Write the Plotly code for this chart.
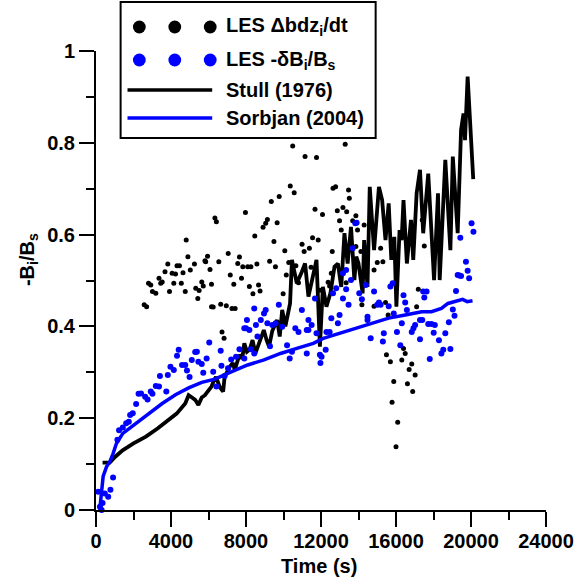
import plotly.graph_objects as go

# ---- Data ----
les_dbdz_t = [2570, 2700, 2800, 2920, 3010, 3190, 3360, 3450, 3530, 3680, 3830, 3920, 4060, 4150, 4240,
              4320, 4450, 4550, 4640, 4760, 4810, 4900, 5030, 5250, 5320, 5430, 5500, 5640, 5720, 5810,
              5850, 5950, 6080, 6160, 6160, 6250, 6340, 6420, 6550, 6650, 6720, 6830, 6950, 7050, 7160,
              7250, 7350, 7420, 7560, 7650, 7760, 7830, 7970, 8090, 8180, 8260, 8370, 8470, 8580, 8670,
              8750, 8910, 9050, 9140, 9260, 9350, 9490, 9570, 9660, 9770, 9980, 10070, 10150, 10280, 10360,
              10490, 10570, 10660, 10800, 10990, 11100, 11150, 11380, 11470, 11550, 11680, 11760, 11850, 11940, 12080,
              12380, 12460, 12550, 12600, 12640, 12780, 12870, 12990, 13080, 13170, 13290, 13340, 13370, 13470, 13510,
              13690, 13860, 13860, 13950, 14130, 14180, 14220, 14300, 14830, 14830, 15000, 15180, 15300, 15440, 15490,
              15580, 15700, 15790, 15880, 16000, 16090, 16310, 16400, 16490, 16610, 16700, 16840, 16890, 17020, 17100,
              17190, 17400, 17510]
les_dbdz_v = [0.447, 0.443, 0.494, 0.490, 0.476, 0.472, 0.505, 0.494, 0.497, 0.519, 0.536, 0.476, 0.516, 0.494, 0.514,
              0.532, 0.532, 0.494, 0.517, 0.476, 0.588, 0.552, 0.523, 0.536, 0.483, 0.461, 0.478, 0.497, 0.488, 0.543,
              0.541, 0.553, 0.524, 0.492, 0.443, 0.442, 0.636, 0.628, 0.541, 0.448, 0.388, 0.374, 0.445, 0.559, 0.512,
              0.439, 0.492, 0.439, 0.537, 0.551, 0.505, 0.530, 0.648, 0.530, 0.487, 0.530, 0.471, 0.597, 0.536, 0.490,
              0.477, 0.616, 0.625, 0.633, 0.542, 0.672, 0.585, 0.530, 0.626, 0.683, 0.471, 0.565, 0.512, 0.539, 0.706,
              0.793, 0.691, 0.532, 0.495, 0.579, 0.563, 0.770, 0.570, 0.529, 0.593, 0.655, 0.768, 0.588, 0.479, 0.644,
              0.496, 0.488, 0.516, 0.563, 0.701, 0.704, 0.652, 0.630, 0.610, 0.659, 0.797, 0.495, 0.650, 0.697, 0.679,
              0.630, 0.641, 0.574, 0.610, 0.563, 0.447, 0.516, 0.621, 0.523, 0.444, 0.539, 0.570, 0.541, 0.452, 0.338,
              0.425, 0.323, 0.235, 0.280, 0.138, 0.191, 0.327, 0.352, 0.341, 0.275, 0.306, 0.318, 0.258, 0.294, 0.443,
              0.481, 0.632, 0.575]

les_db_t = [120, 210, 300, 350, 470, 650, 770, 910, 1140, 1230, 1430, 1610, 1750, 1820, 1960,
            2140, 2270, 2400, 2620, 2750, 2920, 3010, 3190, 3360, 3410, 3750, 3830, 3970, 4150, 4320,
            4410, 4590, 4760, 4850, 4990, 5110, 5290, 5380, 5460, 5640, 5720, 5900, 6040, 6250, 6420,
            6650, 6690, 6860, 7040, 7210, 7470, 7650, 7910, 7910, 8000, 8050, 8180, 8260, 8440, 8440,
            8530, 8610, 8790, 8960, 9050, 9140, 9280, 9400, 9580, 9750, 9930, 10190, 10330, 10450, 10630,
            10800, 10980, 11240, 11240, 11330, 11330, 11500, 11680, 11760, 11940, 11970, 12030, 12250, 12290, 12460,
            12550, 12640, 12810, 12900, 12990, 13170, 13170, 13340, 13340, 13470, 13600, 13690, 13830, 13900, 14040,
            14180, 14390, 14480, 14480, 14650, 14830, 15000, 15090, 15180, 15300, 15350, 15610, 15700, 15820, 15880,
            16050, 16230, 16310, 16400, 16490, 16580, 16840, 16930, 17020, 17280, 17280, 17400, 17450, 17510, 17630,
            17720, 17800, 17890, 18010, 18070, 18290, 18420, 18520, 18630, 18820, 18900, 19030, 19120, 19200, 19290,
            19380, 19470, 19430, 19730, 19820, 19900, 20030, 20130]
les_db_v = [0.040, 0.007, 0.000, 0.015, 0.036, 0.029, 0.044, 0.071, 0.153, 0.174, 0.180, 0.189, 0.192, 0.207, 0.211,
            0.231, 0.253, 0.254, 0.247, 0.241, 0.258, 0.253, 0.270, 0.269, 0.292, 0.258, 0.294, 0.312, 0.305, 0.336,
            0.349, 0.316, 0.316, 0.304, 0.290, 0.327, 0.344, 0.345, 0.323, 0.318, 0.299, 0.330, 0.365, 0.301, 0.269,
            0.347, 0.314, 0.292, 0.309, 0.328, 0.334, 0.350, 0.330, 0.396, 0.396, 0.414, 0.392, 0.350, 0.341, 0.439,
            0.403, 0.378, 0.414, 0.428, 0.436, 0.407, 0.357, 0.403, 0.407, 0.447, 0.399, 0.359, 0.330, 0.345, 0.396,
            0.388, 0.436, 0.392, 0.341, 0.414, 0.392, 0.403, 0.461, 0.385, 0.338, 0.320, 0.334, 0.349, 0.388, 0.388,
            0.418, 0.472, 0.483, 0.407, 0.425, 0.516, 0.461, 0.523, 0.481, 0.447, 0.501, 0.570, 0.625, 0.626, 0.472,
            0.459, 0.490, 0.414, 0.421, 0.374, 0.476, 0.447, 0.452, 0.447, 0.367, 0.385, 0.444, 0.487, 0.494, 0.428,
            0.388, 0.359, 0.407, 0.468, 0.452, 0.436, 0.388, 0.396, 0.403, 0.372, 0.414, 0.414, 0.476, 0.463, 0.476,
            0.405, 0.329, 0.405, 0.386, 0.403, 0.370, 0.341, 0.349, 0.385, 0.409, 0.351, 0.437, 0.423, 0.477, 0.512,
            0.511, 0.510, 0.593, 0.541, 0.521, 0.505, 0.625, 0.606]

stull_t = [350, 735, 1000, 1420, 2000, 2660, 3300, 3890, 4300, 4760, 4940, 5120, 5290, 5460, 5640,
           5810, 6000, 6160, 6300, 6400, 6600, 6780, 6860, 7000, 7130, 7300, 7400, 7650, 7800, 7910,
           8050, 8200, 8350, 8500, 8790, 8950, 9100, 9230, 9400, 9660, 9800, 9930, 10100, 10250, 10350,
           10450, 10710, 10980, 11150, 11330, 11500, 11760, 11940, 12100, 12290, 12500, 12720, 12900, 13080, 13250,
           13420, 13600, 13780, 13880, 14000, 14220, 14300, 14480, 14600, 14830, 15090, 15260, 15440, 15610, 15750,
           15910, 16020, 16190, 16300, 16400, 16580, 16800, 16920, 17100, 17280, 17450, 17720, 18030, 18240, 18330,
           18630, 18900, 19030, 19290, 19470, 19600, 19680, 19820, 20120]
stull_v = [0.103, 0.103, 0.115, 0.130, 0.145, 0.160, 0.178, 0.196, 0.210, 0.232, 0.250, 0.245, 0.240, 0.229, 0.245,
           0.250, 0.260, 0.269, 0.283, 0.290, 0.268, 0.258, 0.290, 0.300, 0.312, 0.320, 0.305, 0.338, 0.330, 0.363,
           0.345, 0.350, 0.370, 0.341, 0.378, 0.392, 0.370, 0.356, 0.390, 0.414, 0.378, 0.436, 0.400, 0.436, 0.450,
           0.545, 0.494, 0.519, 0.537, 0.465, 0.500, 0.545, 0.356, 0.486, 0.443, 0.472, 0.530, 0.537, 0.486, 0.603,
           0.537, 0.617, 0.501, 0.552, 0.537, 0.472, 0.588, 0.486, 0.704, 0.566, 0.704, 0.675, 0.588, 0.668, 0.545,
           0.595, 0.443, 0.610, 0.588, 0.675, 0.537, 0.632, 0.545, 0.690, 0.741, 0.603, 0.733, 0.501, 0.690, 0.501,
           0.763, 0.566, 0.770, 0.603, 0.828, 0.864, 0.806, 0.944, 0.721]

sorbjan_t = [200, 300, 380, 560, 735, 910, 1090, 1430, 2140, 2840, 3530, 4240, 4940, 5640, 6340,
             7210, 8090, 8960, 9840, 10710, 11590, 12120, 12990, 13870, 14740, 15610, 16490, 17370, 17890, 18420,
             18770, 19550, 19800, 20080]
sorbjan_v = [0.000, 0.036, 0.073, 0.094, 0.105, 0.123, 0.145, 0.167, 0.189, 0.211, 0.232, 0.251, 0.266, 0.278, 0.285,
             0.301, 0.316, 0.327, 0.341, 0.352, 0.363, 0.374, 0.385, 0.396, 0.407, 0.418, 0.425, 0.432, 0.432, 0.439,
             0.450, 0.459, 0.454, 0.456]

x_ticks = [0, 4000, 8000, 12000, 16000, 20000, 24000]
y_ticks = [0, 0.2, 0.4, 0.6, 0.8, 1]

legend_labels = ["LES \u0394bdz<sub>i</sub>/dt", "LES -\u03b4B<sub>i</sub>/B<sub>s</sub>",
                 "Stull (1976)", "Sorbjan (2004)"]

BLUE = "#0000FF"
FONT = "Liberation Sans, Arial, sans-serif"

fig = go.Figure()
fig.add_trace(go.Scatter(x=les_dbdz_t, y=les_dbdz_v, mode="markers",
                         marker=dict(color="black", size=5), showlegend=False, cliponaxis=False))
fig.add_trace(go.Scatter(x=stull_t, y=stull_v, mode="lines",
                         line=dict(color="black", width=3.8), showlegend=False))
fig.add_trace(go.Scatter(x=les_db_t, y=les_db_v, mode="markers",
                         marker=dict(color=BLUE, size=6), showlegend=False, cliponaxis=False))
fig.add_trace(go.Scatter(x=sorbjan_t, y=sorbjan_v, mode="lines",
                         line=dict(color=BLUE, width=3.5), showlegend=False))

# plot area in pixels: left 96, right 553, top 51, bottom 510
L, R, T, B = 96, 553, 51, 510
W, H = R - L, B - T
def px(xp):
    return (xp - L) / W
def py(yp):
    return (B - yp) / H

shapes = []
annotations = []
# legend box
shapes.append(dict(type="rect", xref="paper", yref="paper", x0=px(121), x1=px(380), y0=py(138), y1=py(2),
                   line=dict(color="black", width=2), fillcolor="white", layer="above"))
rows = [27, 60, 90, 118]
dot_x = [140, 176, 212]
for i, (yy, lab) in enumerate(zip(rows, legend_labels)):
    if i < 2:
        col = "black" if i == 0 else BLUE
        for dx in dot_x:
            r = 6.5
            shapes.append(dict(type="circle", xref="paper", yref="paper",
                               x0=px(dx - r), x1=px(dx + r), y0=py(yy + r), y1=py(yy - r),
                               fillcolor=col, line=dict(color=col, width=0), layer="above"))
    else:
        col = "black" if i == 2 else BLUE
        shapes.append(dict(type="line", xref="paper", yref="paper", x0=px(128), x1=px(214),
                           y0=py(yy), y1=py(yy), line=dict(color=col, width=3.5), layer="above"))
    annotations.append(dict(text="<b>" + lab + "</b>", xref="paper", yref="paper", x=px(226), y=py(yy),
                            xanchor="left", yanchor="middle", showarrow=False,
                            font=dict(family=FONT, size=20, color="black")))

annotations.append(dict(text="<b>Time (s)</b>", xref="paper", yref="paper", x=px(322), y=py(566),
                        xanchor="center", yanchor="middle", showarrow=False,
                        font=dict(family=FONT, size=20, color="black")))
annotations.append(dict(text="<b>-B<sub>i</sub>/B<sub>s</sub></b>", xref="paper", yref="paper",
                        x=px(27), y=py(260), xanchor="center", yanchor="middle", textangle=-90,
                        showarrow=False, font=dict(family=FONT, size=20, color="black")))

axis_common = dict(showgrid=False, zeroline=False, showline=True, linecolor="black", linewidth=2,
                   ticks="outside", ticklen=15, tickwidth=2, tickcolor="black",
                   tickfont=dict(family=FONT, size=20, color="black", weight="bold"))

fig.update_layout(
    width=586, height=582,
    margin=dict(l=L, r=586 - R, t=T, b=582 - B),
    paper_bgcolor="white", plot_bgcolor="white",
    showlegend=False,
    shapes=shapes, annotations=annotations,
    xaxis=dict(range=[0, 24000], tickvals=x_ticks, ticktext=[str(v) for v in x_ticks],
               ticklabelstandoff=-3,
               minor=dict(ticks="outside", ticklen=8, tickwidth=2, tickcolor="black", dtick=2000, tick0=0),
               **axis_common),
    yaxis=dict(range=[0, 1], tickvals=y_ticks, ticktext=["0", "0.2", "0.4", "0.6", "0.8", "1"],
               minor=dict(ticks="outside", ticklen=8, tickwidth=2, tickcolor="black", dtick=0.1, tick0=0),
               **axis_common),
)

fig.write_html("out.html")
